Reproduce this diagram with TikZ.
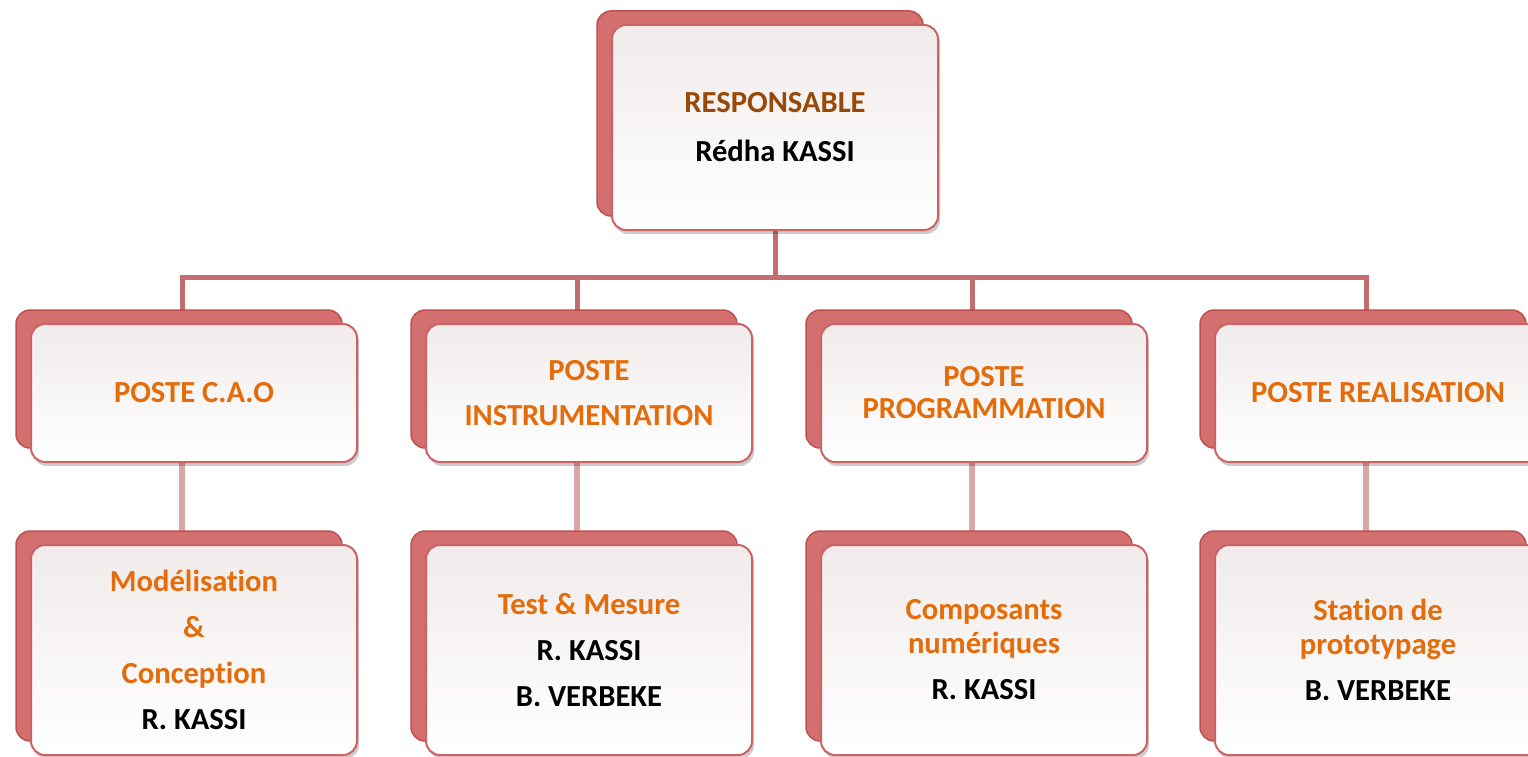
\documentclass[tikz,border=0pt]{standalone}
\usepackage{fontspec}
\setmainfont{Carlito}[Ligatures={NoCommon}]
\usetikzlibrary{shadows,backgrounds}
\definecolor{boxred}{HTML}{C0504D}
\definecolor{backfill}{HTML}{D46F70}
\definecolor{frontfill}{HTML}{F1EBEB}
\definecolor{frontdraw}{HTML}{CB6365}
\definecolor{lineA}{HTML}{C46D70}
\definecolor{lineB}{HTML}{DCA6A9}
\definecolor{org}{HTML}{E46C0A}
\definecolor{brn}{HTML}{984807}
\tikzset{
  card/.style={rectangle, rounded corners=14pt, draw=frontdraw, line width=2pt,
    top color=frontfill, middle color=frontfill, bottom color=white,
    minimum width=326pt, inner sep=0pt, align=center,
    font=\bfseries\fontsize{30.6}{34}\selectfont, text=org,
    drop shadow={shadow xshift=2pt, shadow yshift=-4pt, opacity=0.2, fill=black},
    copy shadow={shadow xshift=-15pt, shadow yshift=14pt, draw=boxred, fill=backfill, line width=1.5pt}},
  lvlone/.style={card, minimum height=205pt, text=brn},
  lvltwo/.style={card, minimum height=138pt},
  lvlthree/.style={card, minimum height=210pt},
  connA/.style={draw=lineA, line width=5pt},
  connB/.style={draw=lineB, line width=5.5pt},
}
\newcommand{\nm}[1]{\textcolor{black}{#1}}
\begin{document}
\begin{tikzpicture}[x=1pt,y=-1pt]
\useasboundingbox (0,0) rectangle (1528,757);
\node[lvlone] (R) at (775,127.5) {RESPONSABLE\\[15pt]\nm{Rédha KASSI}};

\node[lvltwo] (P1) at (194,393) {POSTE C.A.O};
\node[lvltwo] (P2) at (589,393) {POSTE\\[11pt]INSTRUMENTATION};
\node[lvltwo] (P3) at (984,393) {POSTE\\[-2pt]PROGRAMMATION};
\node[lvltwo] (P4) at (1378,393) {POSTE REALISATION};

\node[lvlthree] (S1) at (194,650) {Modélisation\\[12pt]\&\\[12pt]Conception\\[12pt]\nm{R. KASSI}};
\node[lvlthree] (S2) at (589,650) {Test \& Mesure\\[12pt]\nm{R. KASSI}\\[12pt]\nm{B. VERBEKE}};
\node[lvlthree] (S3) at (984,650) {Composants\\numériques\\[12pt]\nm{R. KASSI}};
\node[lvlthree] (S4) at (1378,650) {Station de\\prototypage\\[12pt]\nm{B. VERBEKE}};

\coordinate (bus) at (775,277);
\begin{pgfonlayer}{background}
\draw[connA] (R.south) -- (bus);
\draw[connA] ([xshift=-12pt]P1.north) |- (bus) -| ([xshift=-12pt]P4.north);
\draw[connA] ([xshift=-12pt]P2.north |- bus) -- ([xshift=-12pt]P2.north);
\draw[connA] ([xshift=-12pt]P3.north |- bus) -- ([xshift=-12pt]P3.north);
\draw[connB] ([xshift=-12pt]P1.south) -- ([xshift=-12pt]S1.north);
\draw[connB] ([xshift=-12pt]P2.south) -- ([xshift=-12pt]S2.north);
\draw[connB] ([xshift=-12pt]P3.south) -- ([xshift=-12pt]S3.north);
\draw[connB] ([xshift=-12pt]P4.south) -- ([xshift=-12pt]S4.north);
\end{pgfonlayer}
\end{tikzpicture}
\end{document}
